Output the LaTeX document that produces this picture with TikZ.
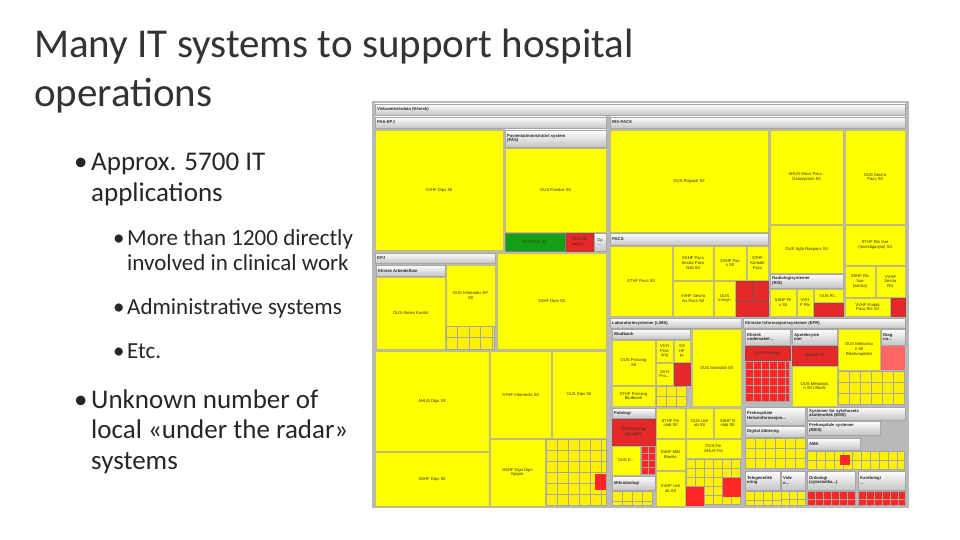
\documentclass[tikz,border=0pt]{standalone}
\usepackage{fontspec}
\setmainfont{Carlito}
\newfontfamily\tmfont{Liberation Sans}
\begin{document}
\begin{tikzpicture}[x=1pt,y=-1pt,
  yb/.style={fill={rgb,255:red,255;green,255;blue,0},draw={rgb,255:red,190;green,190;blue,120},line width=0.4pt},
  rb/.style={fill={rgb,255:red,230;green,40;blue,40},draw={rgb,255:red,170;green,60;blue,60},line width=0.4pt},
  gb/.style={fill={rgb,255:red,20;green,160;blue,20},draw=gray,line width=0.4pt},
  hb/.style={top color=white,bottom color=gray!45,draw=gray!70,line width=0.4pt},
  gl/.style={draw=gray!70,line width=0.4pt},
  lbl/.style={font=\tmfont\fontsize{4.2}{4.6}\selectfont,align=center,text=black!80,inner sep=0.5pt},
  hl/.style={font=\tmfont\bfseries\fontsize{4.2}{4.6}\selectfont,anchor=west,text=black!85,inner sep=1pt,align=left},
  ttl/.style={font=\fontsize{41}{48}\selectfont,anchor=base west,text=black!80,inner sep=0pt},
  b1/.style={font=\fontsize{27}{32}\selectfont,anchor=base west,text=black!85,inner sep=0pt},
  b2/.style={font=\fontsize{23}{27}\selectfont,anchor=base west,text=black!85,inner sep=0pt}]
\useasboundingbox (0,0) rectangle (960,540);
\newcommand\cellx[6]{\draw[#1] (#2,#3) rectangle (#4,#5); \node[lbl] at ({(#2+#4)/2},{(#3+#5)/2}) {#6};}
\newcommand\hdr[5]{\draw[hb] (#1,#2) rectangle (#3,#4); \node[hl] at (#1+1,{(#2+#4)/2}) {#5};}
\newcommand\lines[5]{%
  \pgfmathsetmacro\lxa{#1+#5}\pgfmathsetmacro\lya{#2+#5}%
  \foreach \u in {#1,\lxa,...,#3} {\draw[gl] (\u,#2) -- (\u,#4);}
  \foreach \v in {#2,\lya,...,#4} {\draw[gl] (#1,\v) -- (#3,\v);}
  \draw[gl] (#1,#2) rectangle (#3,#4);}
\newcommand\grd[5]{\fill[yellow] (#1,#2) rectangle (#3,#4); \lines{#1}{#2}{#3}{#4}{#5}}
\newcommand\rgrd[5]{\fill[red!85] (#1,#2) rectangle (#3,#4); \lines{#1}{#2}{#3}{#4}{#5}}
% title and bullets
\node[ttl] (t1) at (34,58) {Many IT systems to support hospital};
\node[ttl] (t2) at (34,107) {operations};
\node[b1] (a1) at (74,171) {•};
\node[b1] (a1t) at (91,171) {Approx. 5700 IT};
\node[b1] (a1u) at (91,201) {applications};
\node[b2] (s1) at (113,245) {•};
\node[b2] (s1t) at (127,245) {More than 1200 directly};
\node[b2] (s1u) at (127,270) {involved in clinical work};
\node[b2] (s2) at (113,314) {•};
\node[b2] (s2t) at (127,314) {Administrative systems};
\node[b2] (s3) at (113,358) {•};
\node[b2] (s3t) at (127,358) {Etc.};
\node[b1] (a2) at (74,408) {•};
\node[b1] (a2t) at (91,408) {Unknown number of};
\node[b1] (a2u) at (91,438) {local «under the radar»};
\node[b1] (a2v) at (91,469) {systems};
% treemap frame
\fill[gray!55] (372,101) rectangle (909,508);
\hdr{375}{104}{905}{115}{Virksomhetsdata (Klinisk)}
\hdr{375}{117}{606}{128}{PAS-EPJ}
\hdr{610}{117}{905}{128}{RIS-PACS}
\cellx{yb}{375}{130}{503}{250}{VVHF Dips Stl}
\hdr{505}{130}{606}{147}{Pasientadministrativt system\\(PAS)}
\cellx{yb}{505}{148}{606}{232}{OUS Paedos Stl}
\cellx{gb}{505}{233}{565}{251}{OUS Pas Stl}
\cellx{rb}{566}{233}{593}{251}{OUS Sil\\regen...}
\cellx{hb}{594}{233}{606}{251}{Op\\...}
\hdr{375}{253}{495}{263}{EPJ}
\hdr{376}{265}{445}{276}{Klinisk Arbeidsflate}
\cellx{yb}{376}{277}{445}{349}{OUS Aimes Kursbl}
\cellx{yb}{446}{265}{495}{326}{OUS Infomedix EP\\Stl}
\grd{446}{326}{494}{349}{11.5}
\cellx{yb}{497}{253}{606}{349}{SSHF Dips Stl}
\cellx{yb}{375}{351}{489}{451}{AHUS Dips Stl}
\cellx{yb}{375}{452}{489}{506}{SSHF Dips Stl}
\cellx{yb}{490}{351}{551}{438}{STHF Infomedix Stl}
\cellx{yb}{552}{351}{606}{438}{OUS Dips Stl}
\cellx{yb}{490}{439}{545}{506}{SSHF Dips Dips\\Epipro}
\grd{546}{439}{606}{505}{11}
\fill[red!85] (595,474) rectangle (606,490);
% RIS-PACS
\cellx{yb}{610}{130}{768}{232}{OUS Rispack Stl}
\cellx{yb}{770}{130}{843}{224}{AHUS Mosv Pacs -\\Datasystem Stl}
\cellx{yb}{845}{130}{905}{224}{OUS Sectra\\Pacs Stl}
\hdr{610}{233}{768}{245}{PACS}
\cellx{yb}{610}{246}{672}{316}{STHF Pacs Stl}
\cellx{yb}{673}{246}{713}{280}{SSHF Pacs\\Sectra Pacs\\Nsb Stl}
\cellx{yb}{714}{246}{746}{280}{SSHF Pac\\s Stl}
\cellx{yb}{747}{246}{768}{280}{STHF\\Kontakt\\Pacs}
\cellx{yb}{673}{281}{713}{316}{VVHF Sectra\\ins Pacs Stl}
\cellx{yb}{714}{281}{735}{316}{OUS\\Innsyn}
\cellx{rb}{736}{281}{752}{300}{}
\cellx{rb}{753}{281}{768}{300}{}
\cellx{rb}{736}{301}{768}{316}{}
\cellx{yb}{770}{225}{843}{273}{OUS Agfa Raspacs Stl}
\hdr{770}{274}{843}{288}{Radiologisystemer\\(RIS)}
\cellx{yb}{770}{289}{796}{316}{SSHF RI\\s Stl}
\cellx{yb}{797}{289}{813}{316}{VVH\\F Ris}
\cellx{yb}{814}{289}{843}{302}{OUS Ri...}
\cellx{rb}{814}{303}{843}{316}{}
\cellx{yb}{845}{225}{905}{265}{STHF Ris Vue\\(Investigasjon) Stl}
\cellx{yb}{845}{266}{875}{297}{SSHF Ris\\Vue\\(sectra)}
\cellx{yb}{876}{266}{905}{297}{VVHF\\Sectra\\Ris}
\cellx{yb}{845}{298}{890}{316}{VVHF Kodak\\Pacs Ris Stl}
\cellx{rb}{891}{298}{905}{316}{}
% Laboratory
\hdr{610}{318}{741}{328}{Laboratoriesystemer (LIMS)}
\hdr{612}{329}{690}{339}{Blodbank}
\cellx{yb}{612}{340}{655}{385}{OUS Prosang\\Stl}
\cellx{yb}{656}{340}{673}{362}{VVH\\Pros\\ang}
\cellx{yb}{674}{340}{690}{362}{SS\\HF\\Pr}
\cellx{yb}{656}{363}{673}{385}{SVH\\Pro...}
\cellx{rb}{674}{363}{690}{385}{}
\cellx{yb}{612}{386}{655}{406}{STHF Prosang\\Blodbank}
\grd{656}{386}{686}{406}{10}
\cellx{yb}{692}{329}{741}{406}{OUS Swisslab Stl}
\hdr{612}{408}{655}{418}{Patologi}
\cellx{rb}{612}{419}{655}{445}{OUS Patologi\\(docpath)}
\cellx{yb}{612}{446}{640}{475}{OUS D...}
\rgrd{641}{446}{655}{474}{7}
\hdr{612}{476}{655}{490}{Mikrobiologi}
\grd{612}{491}{652}{505}{10}
\cellx{yb}{656}{408}{685}{438}{STHF Fin\\nlab Stl}
\cellx{yb}{686}{408}{713}{438}{OUS Unil\\ab Stl}
\cellx{yb}{714}{408}{741}{438}{SSHF N\\nlab Stl}
\cellx{yb}{656}{439}{685}{470}{SSHF Mikl\\Bioeks}
\cellx{yb}{656}{471}{685}{506}{SVHF Unil\\ab Stl}
\cellx{yb}{686}{439}{741}{458}{OUS Fin\\AHUS Fin}
\grd{686}{459}{740}{504}{9}
\fill[red!85] (686,487) rectangle (704,506);
\fill[red!85] (723,478) rectangle (741,497);
% Clinical
\hdr{743}{318}{905}{328}{Kliniske Informasjonssystemer (EPR)}
\hdr{745}{329}{790}{345}{Klinisk\\undersøkel...}
\cellx{rb}{745}{346}{790}{360}{OUS Pathsys}
\rgrd{745}{361}{789}{401}{8}
\hdr{792}{329}{837}{345}{Apoteksyste\\mer}
\cellx{rb}{792}{346}{837}{365}{Apotek Stl}
\cellx{yb}{838}{329}{880}{370}{OUS Metavisio\\n Stl\\Rikshospitalet}
\hdr{881}{329}{905}{345}{Diag\\no...}
\fill[red!60] (881,346) rectangle (905,370);
\cellx{yb}{792}{366}{837}{406}{OUS Metavisio\\n Stl Ullevål}
\grd{838}{371}{904}{404}{11}
\hdr{745}{407}{805}{425}{Prehospitale\\Helseinformasjon...}
\hdr{807}{407}{905}{420}{Systemer for sykehusets\\akuttmottak (EMS)}
\hdr{745}{426}{805}{437}{Digital diktering}
\grd{745}{438}{805}{468}{10}
\hdr{807}{421}{880}{435}{Prehospitale systemer\\(EBIS)}
\hdr{807}{438}{860}{450}{AMK}
\grd{807}{451}{904}{469}{9}
\fill[red!85] (840,455) rectangle (850,465);
\hdr{745}{471}{780}{490}{Telegenetikk\\ering}
\grd{745}{491}{781}{505}{9}
\hdr{781}{471}{805}{490}{Vide\\o...}
\grd{781}{491}{805}{505}{8}
\hdr{807}{471}{855}{490}{Onkologi\\(cytostatika...)}
\rgrd{807}{491}{855}{505}{8}
\hdr{858}{471}{905}{490}{Kardiologi\\...}
\rgrd{858}{491}{905}{505}{8}
\end{tikzpicture}
\end{document}
